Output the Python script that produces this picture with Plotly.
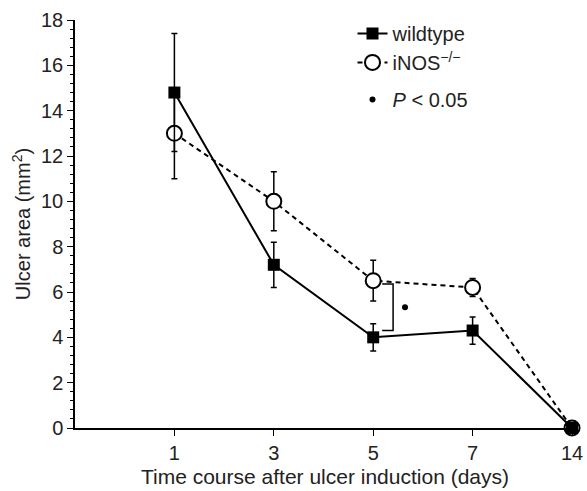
import plotly.graph_objects as go

days = ["1", "3", "5", "7", "14"]
wildtype = [14.8, 7.2, 4.0, 4.3, 0.0]
wildtype_err = [2.6, 1.0, 0.6, 0.6, 0.0]
inos = [13.0, 10.0, 6.5, 6.2, 0.0]
inos_err = [2.0, 1.3, 0.9, 0.4, 0.0]
sig_day_index = 2

xpos = list(range(len(days)))
font = "Liberation Sans, Arial, sans-serif"

fig = go.Figure()
fig.add_trace(go.Scatter(
    x=xpos, y=inos, name="iNOS<sup>−/−</sup>", mode="lines+markers",
    line=dict(color="black", width=2, dash="5px,4px"),
    marker=dict(symbol="circle", size=15, color="white", line=dict(color="black", width=2)),
    error_y=dict(type="data", array=inos_err, color="black", thickness=1.5, width=3),
    cliponaxis=False, legendrank=2, legendgroup="a",
))
fig.add_trace(go.Scatter(
    x=xpos, y=wildtype, name="wildtype", mode="lines+markers",
    line=dict(color="black", width=2),
    marker=dict(symbol="square", size=12, color="black"),
    error_y=dict(type="data", array=wildtype_err, color="black", thickness=1.5, width=3),
    cliponaxis=False, legendrank=1, legendgroup="a",
))
fig.add_trace(go.Scatter(
    x=[None], y=[None], name="<i>P</i> < 0.05", mode="markers",
    marker=dict(symbol="circle", size=6, color="black"), legendrank=3, legendgroup="b",
))

# significance bracket at day 5
i = sig_day_index
bx0, bx1 = i + 0.09, i + 0.2
ytop, ybot = inos[i] - 0.15, wildtype[i] + 0.3
fig.add_shape(type="path", xref="x", yref="y",
              path=f"M {bx0} {ytop} L {bx1} {ytop} L {bx1} {ybot} L {bx0} {ybot}",
              line=dict(color="black", width=1.5))
fig.add_trace(go.Scatter(
    x=[i + 0.32], y=[(ytop + ybot) / 2], mode="markers", showlegend=False,
    marker=dict(symbol="circle", size=6, color="black"), hoverinfo="skip",
))

fig.update_layout(
    width=587, height=491,
    margin=dict(l=75, r=12, t=20, b=63),
    plot_bgcolor="white", paper_bgcolor="white",
    font=dict(family=font, size=20, color="#222"),
    showlegend=True,
    legend=dict(x=0.555, y=1.015, xanchor="left", yanchor="top",
                font=dict(size=20), bgcolor="rgba(0,0,0,0)",
                itemwidth=30, tracegroupgap=8, traceorder="grouped"),
    xaxis=dict(
        range=[-1, 4.03], tickmode="array", tickvals=xpos, ticktext=days,
        showline=True, linecolor="black", linewidth=1.5, automargin=False,
        ticks="outside", ticklen=6, tickcolor="black", showgrid=False, zeroline=False,
        tickfont=dict(size=20),
        title=dict(text="Time course after ulcer induction (days)", font=dict(size=21), standoff=7),
    ),
    yaxis=dict(
        range=[0, 18], dtick=2, tick0=0, automargin=False,
        showline=True, linecolor="black", linewidth=1.5,
        ticks="outside", ticklen=6, tickcolor="black", showgrid=False, zeroline=False,
        tickfont=dict(size=20),
        minor=dict(dtick=0.4, ticks="outside", ticklen=3, tickcolor="black"),
        title=dict(text="Ulcer area (mm<sup>2</sup>)", font=dict(size=20), standoff=5),
    ),
)

fig.write_html("out.html", config={"displayModeBar": False},
               post_script="document.body.style.margin='0';")
